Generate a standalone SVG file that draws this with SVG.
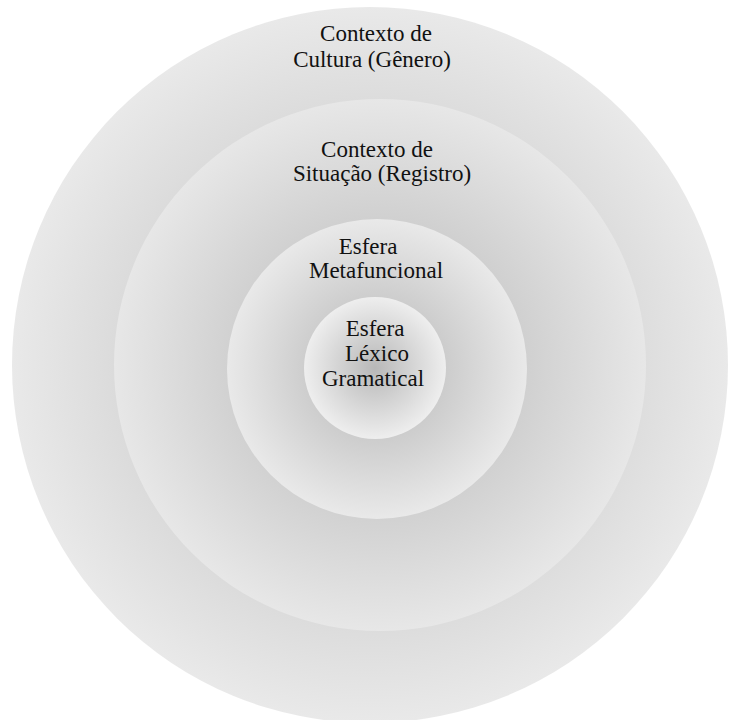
<svg xmlns="http://www.w3.org/2000/svg" width="732" height="720" viewBox="0 0 732 720">
<defs>
<radialGradient id="g1" cx="50%" cy="50%" r="50%">
<stop offset="0" stop-color="#b8b8b8"/>
<stop offset="1" stop-color="#e9e9e9"/>
</radialGradient>
<radialGradient id="g2" cx="50%" cy="50%" r="50%">
<stop offset="0" stop-color="#b4b4b4"/>
<stop offset="1" stop-color="#e7e7e7"/>
</radialGradient>
<radialGradient id="g3" cx="50%" cy="50%" r="50%">
<stop offset="0" stop-color="#b4b4b4"/>
<stop offset="1" stop-color="#e9e9e9"/>
</radialGradient>
<radialGradient id="g4" cx="50%" cy="50%" r="50%">
<stop offset="0" stop-color="#b8b8b8"/>
<stop offset="1" stop-color="#eeeeee"/>
</radialGradient>
</defs>
<style>
text{font-size:23px;fill:#111;text-anchor:middle}
</style>
<rect width="732" height="720" fill="#ffffff"/>
<g id="cultura" font-family="'Liberation Serif', Tinos, 'Times New Roman', serif">
<circle cx="370" cy="365" r="358" fill="url(#g1)"/>
<text x="376" y="41">Contexto de</text>
<text x="372" y="67">Cultura (Gênero)</text>
</g>
<g id="situacao" font-family="'Liberation Serif', Tinos, 'Times New Roman', serif">
<circle cx="380" cy="365" r="266" fill="url(#g2)"/>
<text x="377" y="157">Contexto de</text>
<text x="382" y="181">Situação (Registro)</text>
</g>
<g id="metafuncional" font-family="'Liberation Serif', Tinos, 'Times New Roman', serif">
<circle cx="377" cy="369" r="150" fill="url(#g3)"/>
<text x="368" y="254">Esfera</text>
<text x="376" y="278">Metafuncional</text>
</g>
<g id="lexicogramatical" font-family="'Liberation Serif', Tinos, 'Times New Roman', serif">
<circle cx="375" cy="368" r="71" fill="url(#g4)"/>
<text x="375" y="336">Esfera</text>
<text x="377" y="361">Léxico</text>
<text x="373" y="386">Gramatical</text>
</g>
<g id="connectors"/>
</svg>
